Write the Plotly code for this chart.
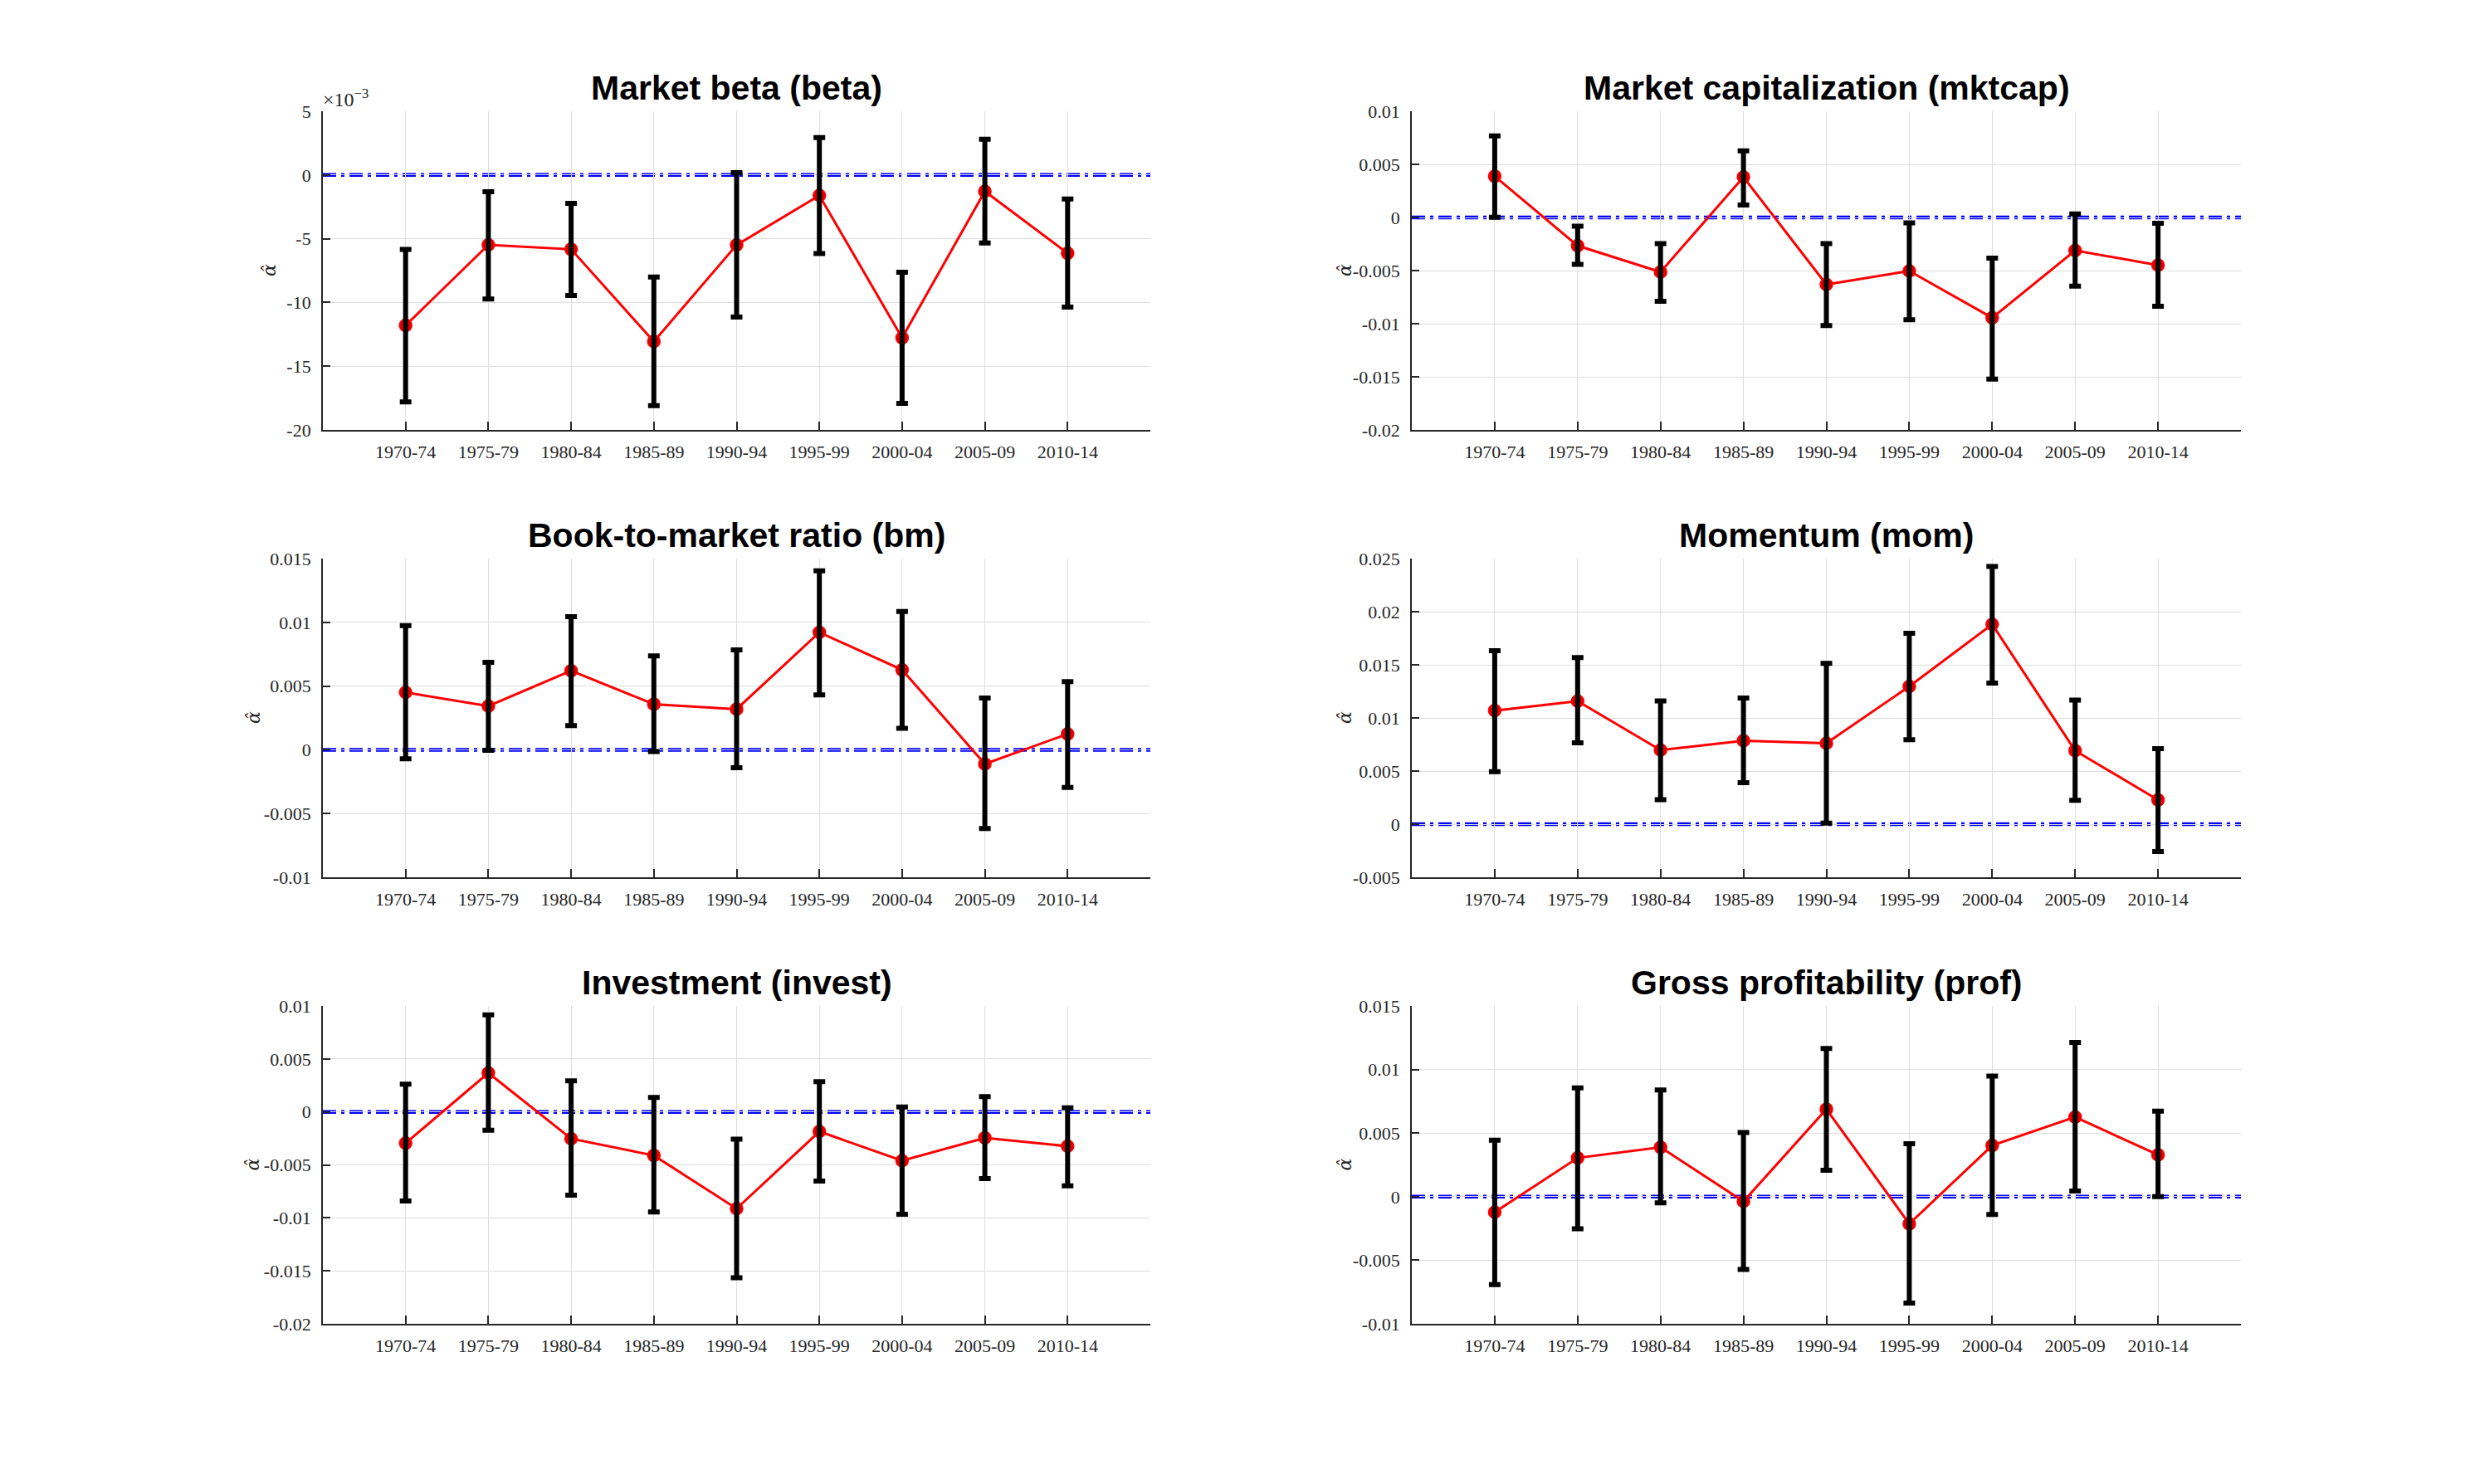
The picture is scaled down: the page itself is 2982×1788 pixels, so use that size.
import plotly.graph_objects as go

# ---------------- data ----------------
periods = ["1970-74", "1975-79", "1980-84", "1985-89", "1990-94",
           "1995-99", "2000-04", "2005-09", "2010-14"]

panel_titles = ["Market beta (beta)", "Market capitalization (mktcap)",
                "Book-to-market ratio (bm)", "Momentum (mom)",
                "Investment (invest)", "Gross profitability (prof)"]

# Market beta, in units of 10^-3 (axis carries a x10^-3 multiplier)
beta_est = [-11.80, -5.48, -5.83, -13.06, -5.49, -1.61, -12.78, -1.28, -6.14]
beta_lo = [-17.81, -9.73, -9.45, -18.10, -11.15, -6.16, -17.92, -5.33, -10.37]
beta_hi = [-5.84, -1.31, -2.22, -8.00, 0.18, 2.94, -7.63, 2.81, -1.89]

mktcap_est = [0.00388, -0.00266, -0.00513, 0.00380, -0.00631, -0.00504, -0.00944, -0.00311, -0.00449]
mktcap_lo = [0.00002, -0.00442, -0.00789, 0.00117, -0.01017, -0.00962, -0.01522, -0.00646, -0.00836]
mktcap_hi = [0.00768, -0.00082, -0.00247, 0.00626, -0.00247, -0.00050, -0.00382, 0.00033, -0.00055]

bm_est = [0.00450, 0.00343, 0.00620, 0.00358, 0.00319, 0.00921, 0.00627, -0.00111, 0.00124]
bm_lo = [-0.00070, -0.00004, 0.00190, -0.00013, -0.00140, 0.00430, 0.00168, -0.00618, -0.00295]
bm_hi = [0.00974, 0.00686, 0.01044, 0.00736, 0.00784, 0.01404, 0.01085, 0.00406, 0.00535]

mom_est = [0.01069, 0.01158, 0.00697, 0.00786, 0.00762, 0.01297, 0.01881, 0.00692, 0.00228]
mom_lo = [0.00495, 0.00765, 0.00231, 0.00390, 0.00010, 0.00794, 0.01328, 0.00225, -0.00257]
mom_hi = [0.01632, 0.01569, 0.01161, 0.01187, 0.01514, 0.01797, 0.02426, 0.01168, 0.00710]

invest_est = [-0.00295, 0.00367, -0.00253, -0.00411, -0.00913, -0.00185, -0.00461, -0.00245, -0.00324]
invest_lo = [-0.00841, -0.00172, -0.00786, -0.00944, -0.01566, -0.00652, -0.00967, -0.00629, -0.00697]
invest_hi = [0.00262, 0.00916, 0.00293, 0.00136, -0.00258, 0.00286, 0.00046, 0.00144, 0.00038]

prof_est = [-0.00122, 0.00305, 0.00388, -0.00037, 0.00688, -0.00214, 0.00403, 0.00626, 0.00329]
prof_lo = [-0.00691, -0.00253, -0.00048, -0.00573, 0.00208, -0.00836, -0.00140, 0.00044, 0.00000]
prof_hi = [0.00445, 0.00856, 0.00839, 0.00504, 0.01165, 0.00416, 0.00948, 0.01213, 0.00673]

# y tick values / labels per panel
beta_ticks = [-20, -15, -10, -5, 0, 5]
beta_ticklabels = ["-20", "-15", "-10", "-5", "0", "5"]
mktcap_ticks = [-0.02, -0.015, -0.01, -0.005, 0, 0.005, 0.01]
mktcap_ticklabels = ["-0.02", "-0.015", "-0.01", "-0.005", "0", "0.005", "0.01"]
bm_ticks = [-0.01, -0.005, 0, 0.005, 0.01, 0.015]
bm_ticklabels = ["-0.01", "-0.005", "0", "0.005", "0.01", "0.015"]
mom_ticks = [-0.005, 0, 0.005, 0.01, 0.015, 0.02, 0.025]
mom_ticklabels = ["-0.005", "0", "0.005", "0.01", "0.015", "0.02", "0.025"]
invest_ticks = [-0.02, -0.015, -0.01, -0.005, 0, 0.005, 0.01]
invest_ticklabels = ["-0.02", "-0.015", "-0.01", "-0.005", "0", "0.005", "0.01"]
prof_ticks = [-0.01, -0.005, 0, 0.005, 0.01, 0.015]
prof_ticklabels = ["-0.01", "-0.005", "0", "0.005", "0.01", "0.015"]

panels = [
    (beta_est, beta_lo, beta_hi, beta_ticks, beta_ticklabels),
    (mktcap_est, mktcap_lo, mktcap_hi, mktcap_ticks, mktcap_ticklabels),
    (bm_est, bm_lo, bm_hi, bm_ticks, bm_ticklabels),
    (mom_est, mom_lo, mom_hi, mom_ticks, mom_ticklabels),
    (invest_est, invest_lo, invest_hi, invest_ticks, invest_ticklabels),
    (prof_est, prof_lo, prof_hi, prof_ticks, prof_ticklabels),
]

# ---------------- layout geometry (pixels of 2982x1788 canvas) ----------------
W, H = 2982, 1788
col_px = [(389, 1386), (1701, 2700)]
row_px = [(134, 518), (673, 1057), (1212, 1595)]
ylabel_offset_px = [64, 80, 84, 81, 85, 81]

x_pos = list(range(1, len(periods) + 1))
x_tickvals = x_pos + [len(periods) + 1]
x_ticktext = periods + [""]

AXCOL = "#262626"
GRID = "#dedede"
SERIF = "Liberation Serif, Times New Roman, serif"
TICKFONT = dict(family=SERIF, size=22, color="#262626")
TITLEFONT = dict(family="Liberation Sans, Arial, Helvetica, sans-serif", size=41, color="black")

fig = go.Figure()
annotations = []
shapes = []

for i, (est, lo, hi, yt, ytl) in enumerate(panels):
    r, c = divmod(i, 2)
    idx = i + 1
    xa = "x" if idx == 1 else f"x{idx}"
    ya = "y" if idx == 1 else f"y{idx}"
    up = [h - e for h, e in zip(hi, est)]
    dn = [e - l for e, l in zip(est, lo)]

    # red line with markers
    fig.add_trace(go.Scatter(
        x=x_pos, y=est, mode="lines+markers", xaxis=xa, yaxis=ya,
        line=dict(color="#ff0000", width=3),
        marker=dict(symbol="circle", size=15, color="#e00000",
                    line=dict(color="#ff0000", width=1.5)),
        showlegend=False, hoverinfo="skip"))
    # black error bars drawn on top
    fig.add_trace(go.Scatter(
        x=x_pos, y=est, mode="markers", xaxis=xa, yaxis=ya,
        marker=dict(size=2, color="rgba(0,0,0,0)"),
        error_y=dict(type="data", symmetric=False, array=up, arrayminus=dn,
                     color="black", thickness=6, width=7),
        showlegend=False, hoverinfo="skip"))

    x0, x1 = col_px[c]
    yt0, yb0 = row_px[r]
    xdom = [x0 / W, x1 / W]
    ydom = [1 - yb0 / H, 1 - yt0 / H]

    fig.layout[f"xaxis{'' if idx == 1 else idx}"] = dict(
        domain=xdom, anchor=ya, range=[0, len(periods) + 1],
        tickmode="array", tickvals=x_tickvals, ticktext=x_ticktext,
        ticks="inside", ticklen=10, tickwidth=1.5, tickcolor=AXCOL,
        showline=True, linecolor=AXCOL, linewidth=1.8,
        showgrid=True, gridcolor=GRID, gridwidth=1.3, zeroline=False,
        tickfont=TICKFONT, ticklabelstandoff=6, fixedrange=True,
        automargin=False)
    fig.layout[f"yaxis{'' if idx == 1 else idx}"] = dict(
        domain=ydom, anchor=xa, range=[yt[0], yt[-1]],
        tickmode="array", tickvals=yt, ticktext=ytl,
        ticks="inside", ticklen=9, tickwidth=1.5, tickcolor=AXCOL,
        showline=True, linecolor=AXCOL, linewidth=1.8,
        showgrid=True, gridcolor=GRID, gridwidth=1.3, zeroline=False,
        tickfont=TICKFONT, ticklabelstandoff=8, fixedrange=True,
        automargin=False)

    # zero reference line (blue dash-dot)
    shapes.append(dict(type="line", xref=f"{xa} domain", yref=ya,
                       x0=0, x1=1, y0=0, y1=0,
                       line=dict(color="#0000ff", width=4.5, dash="16px,6px,4px,6px"),
                       layer="below"))

    # panel title
    annotations.append(dict(
        text=f"<b>{panel_titles[i]}</b>", xref="paper", yref="paper",
        x=(xdom[0] + xdom[1]) / 2, y=1 - (yt0 - 3) / H,
        xanchor="center", yanchor="bottom", showarrow=False, font=TITLEFONT))
    # y label alpha-hat
    annotations.append(dict(
        text="<i>α̂</i>", xref="paper", yref="paper",
        x=(x0 - ylabel_offset_px[i]) / W, y=(ydom[0] + ydom[1]) / 2,
        xanchor="center", yanchor="middle", textangle=-90, showarrow=False,
        font=dict(family="DejaVu Serif, serif", size=22, color="#262626")))

# exponent multiplier for the beta panel
annotations.append(dict(
    text="×10<sup>−3</sup>", xref="paper", yref="paper",
    x=(col_px[0][0] - 2) / W, y=1 - (row_px[0][0] + 1) / H,
    xanchor="left", yanchor="bottom", showarrow=False,
    font=dict(family=SERIF, size=24, color="#262626")))

fig.update_layout(
    width=W, height=H, margin=dict(l=0, r=0, t=0, b=0, autoexpand=False),
    paper_bgcolor="white", plot_bgcolor="white",
    annotations=annotations, shapes=shapes, showlegend=False)

fig.write_html("out.html", config={"displayModeBar": False},
               post_script="document.body.style.margin='0px';")
